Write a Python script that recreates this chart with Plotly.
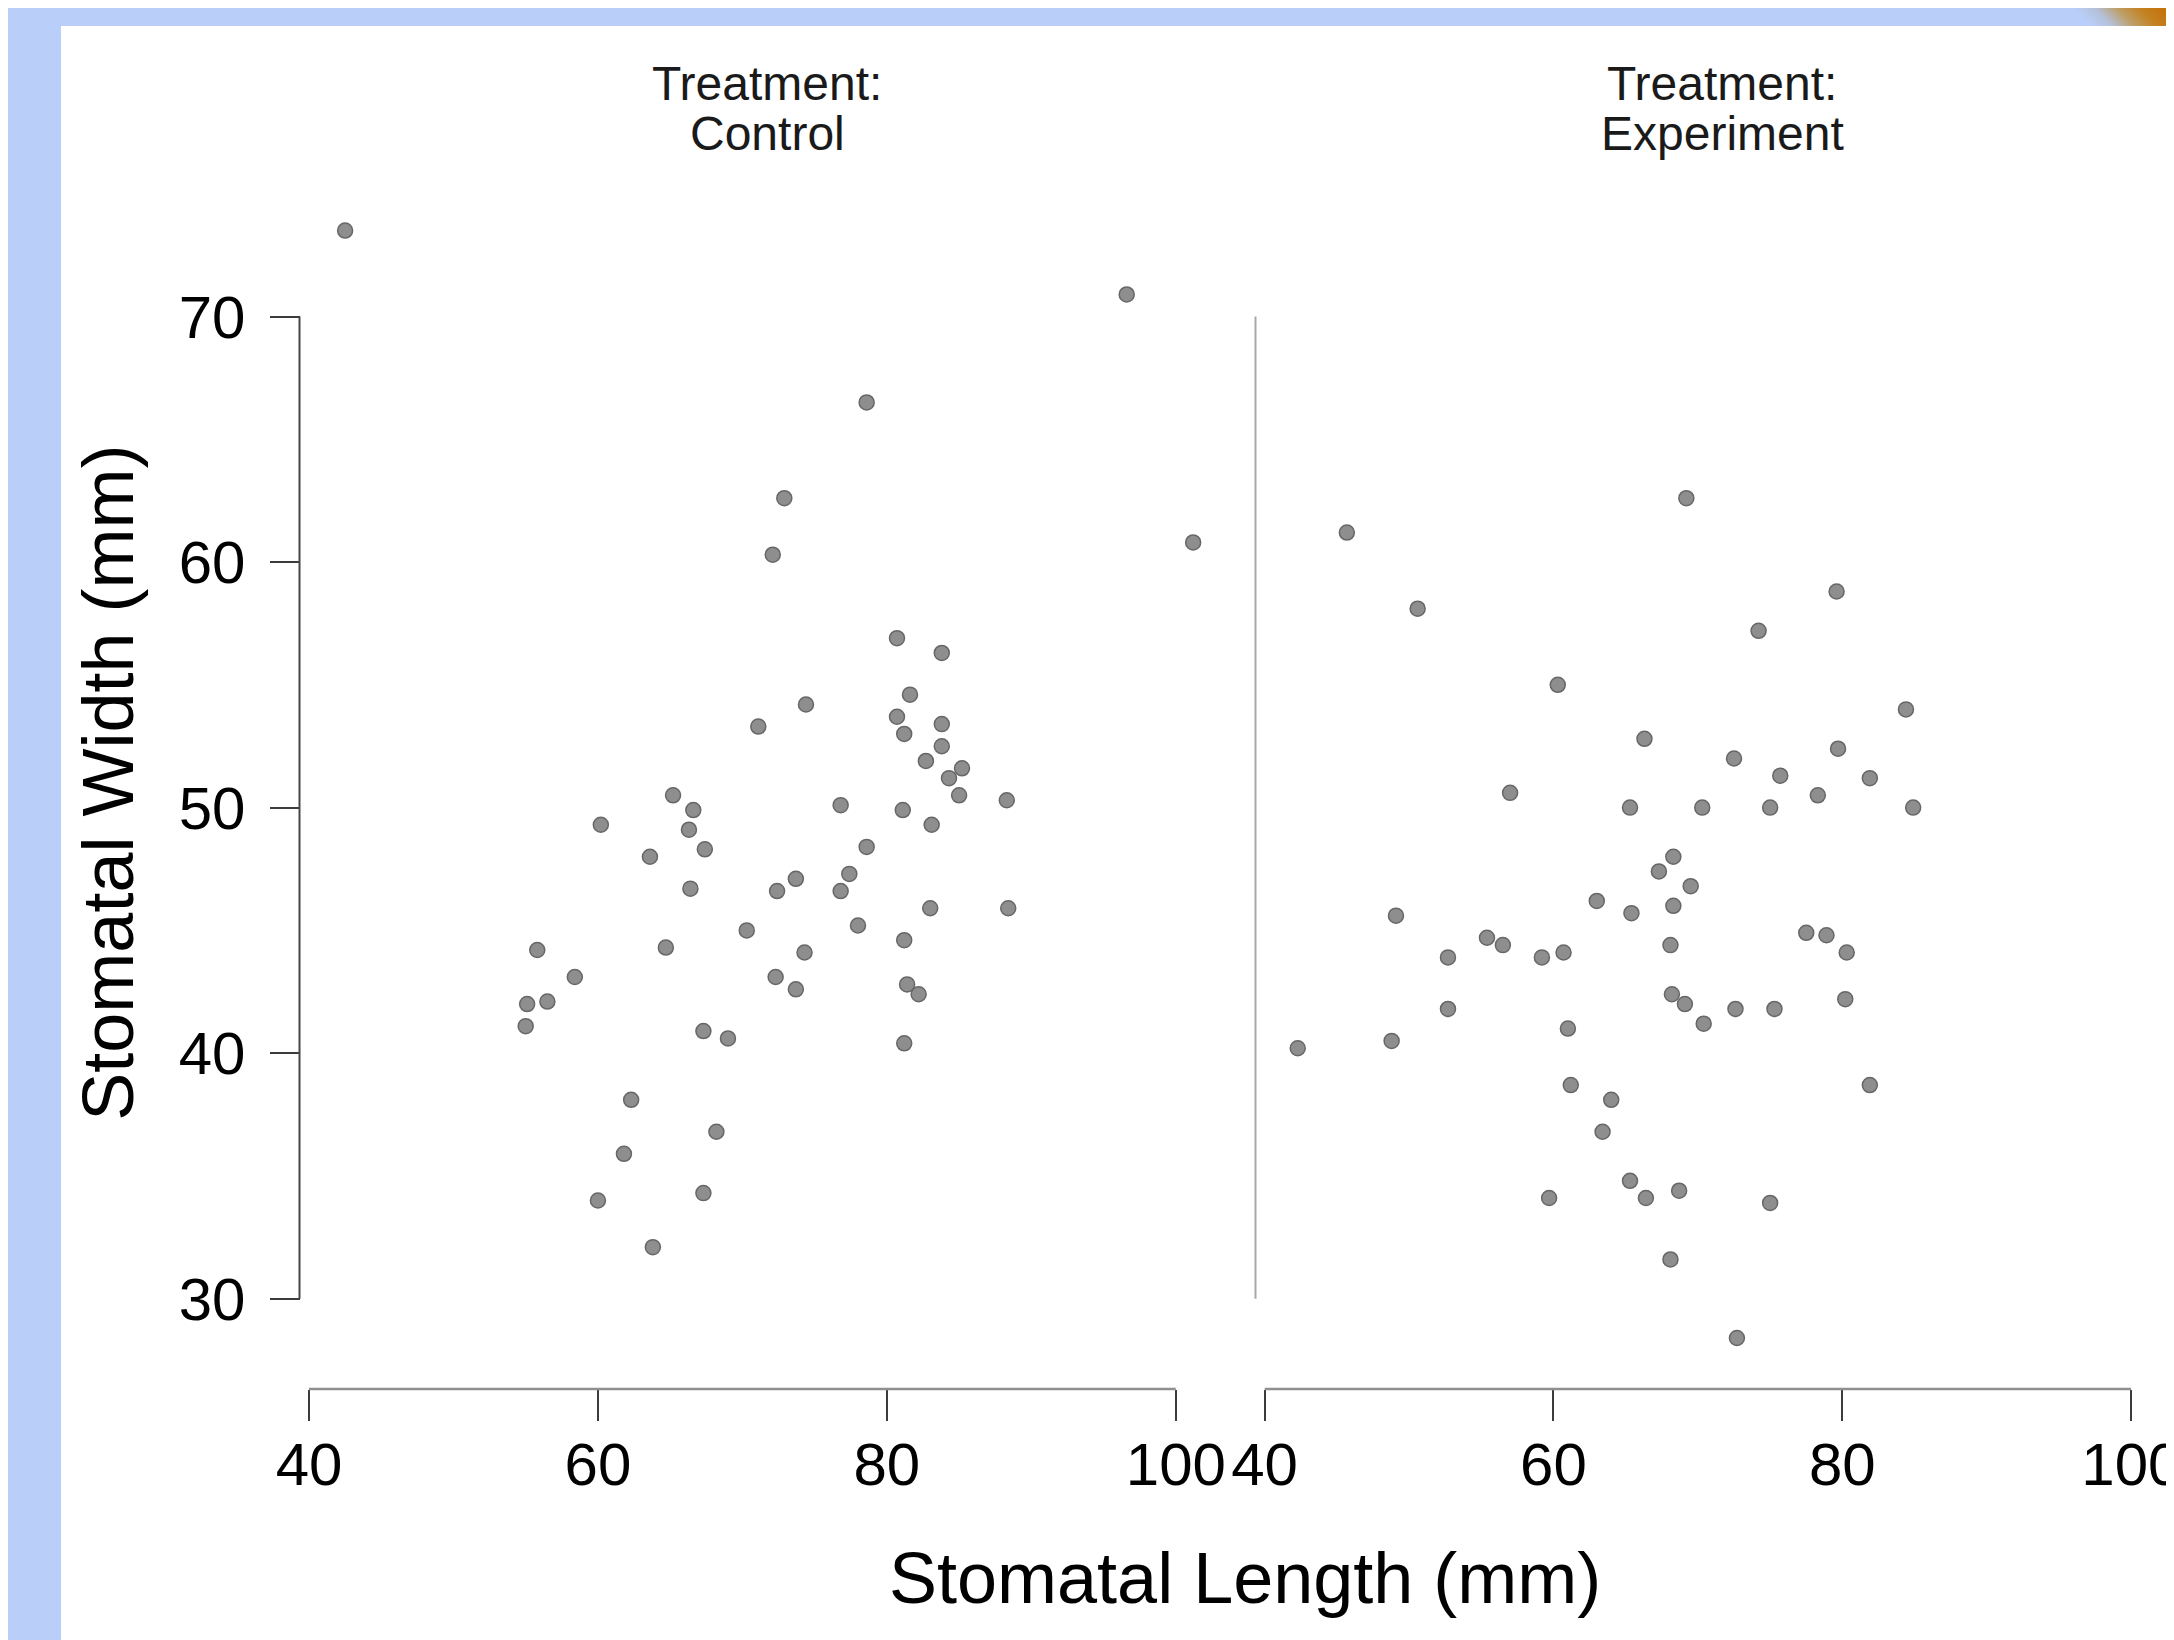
import base64
import plotly.graph_objects as go

control_length = [42.5, 96.6, 78.6, 72.9, 72.1, 101.2, 80.7, 83.8, 74.4, 81.6,
                  71.1, 80.7, 81.2, 83.8, 83.8, 82.7, 85.2, 84.3, 85.0, 88.3,
                  65.2, 66.6, 76.8, 81.1, 60.2, 66.3, 83.1, 67.4, 78.6, 63.6,
                  77.4, 73.7, 76.8, 72.4, 66.4, 83.0, 88.4, 78.0, 70.3, 55.8,
                  64.7, 81.2, 74.3, 58.4, 72.3, 73.7, 81.4, 82.2, 55.1, 56.5,
                  55.0, 67.3, 69.0, 81.2, 62.3, 68.2, 61.8, 60.0, 67.3, 63.8]
control_width = [73.5, 70.9, 66.5, 62.6, 60.3, 60.8, 56.9, 56.3, 54.2, 54.6,
                 53.3, 53.7, 53.0, 53.4, 52.5, 51.9, 51.6, 51.2, 50.5, 50.3,
                 50.5, 49.9, 50.1, 49.9, 49.3, 49.1, 49.3, 48.3, 48.4, 48.0,
                 47.3, 47.1, 46.6, 46.6, 46.7, 45.9, 45.9, 45.2, 45.0, 44.2,
                 44.3, 44.6, 44.1, 43.1, 43.1, 42.6, 42.8, 42.4, 42.0, 42.1,
                 41.1, 40.9, 40.6, 40.4, 38.1, 36.8, 35.9, 34.0, 34.3, 32.1]

experiment_length = [69.2, 45.7, 50.6, 79.6, 74.2, 60.3, 84.4, 66.3, 79.7, 72.5,
                     75.7, 81.9, 57.0, 78.3, 65.3, 70.3, 75.0, 84.9, 68.3, 67.3,
                     69.5, 63.0, 65.4, 68.3, 49.1, 55.4, 56.5, 52.7, 59.2, 60.7,
                     68.1, 77.5, 78.9, 80.3, 68.2, 69.1, 52.7, 72.6, 75.3, 80.2,
                     70.4, 61.0, 48.8, 42.3, 61.2, 64.0, 81.9, 63.4, 65.3, 66.4,
                     68.7, 59.7, 75.0, 68.1, 72.7]
experiment_width = [62.6, 61.2, 58.1, 58.8, 57.2, 55.0, 54.0, 52.8, 52.4, 52.0,
                    51.3, 51.2, 50.6, 50.5, 50.0, 50.0, 50.0, 50.0, 48.0, 47.4,
                    46.8, 46.2, 45.7, 46.0, 45.6, 44.7, 44.4, 43.9, 43.9, 44.1,
                    44.4, 44.9, 44.8, 44.1, 42.4, 42.0, 41.8, 41.8, 41.8, 42.2,
                    41.2, 41.0, 40.5, 40.2, 38.7, 38.1, 38.7, 36.8, 34.8, 34.1,
                    34.4, 34.1, 33.9, 31.6, 28.4]

x_ticks = [40, 60, 80, 100]
y_ticks = [30, 40, 50, 60, 70]
panel_titles = [("Treatment:", "Control"), ("Treatment:", "Experiment")]

# page body has an 8px margin, so the figure is drawn 8px in from the window edge
OFF = 8
W, H = 2174 - OFF, 1640 - OFF
FONT = "Liberation Sans, Arial, Helvetica, sans-serif"

# scale of the plot in screen pixels
X40_L, X40_R, XS = 309.0, 1264.5, 14.447   # x=40 on each panel, px per unit
Y70, YS = 316.5, 24.555                    # y=70, px per unit


def px(x):
    return (x - OFF) / W


def py(y):
    return 1 - (y - OFF) / H


def xdom(x40, lo, hi):
    return [px(x40 + (lo - 40) * XS), px(x40 + (hi - 40) * XS)]


Y_RANGE = [27, 75]
Y_DOMAIN = [py(Y70 + (70 - Y_RANGE[0]) * YS), py(Y70 - (Y_RANGE[1] - 70) * YS)]

marker = dict(size=15, color="#8e8e8e", line=dict(color="#676767", width=1.5))

fig = go.Figure()
fig.add_trace(go.Scatter(x=control_length, y=control_width, mode="markers",
                         marker=marker, cliponaxis=False, xaxis="x", yaxis="y",
                         showlegend=False))
fig.add_trace(go.Scatter(x=experiment_length, y=experiment_width, mode="markers",
                         marker=marker, cliponaxis=False, xaxis="x2", yaxis="y2",
                         showlegend=False))

xaxis_common = dict(anchor="free", position=py(1389), showline=False,
                    ticks="outside", ticklen=31, tickwidth=1.6, tickcolor="#3c3c3c",
                    tickvals=x_ticks, ticklabelstandoff=-8, ticklabeloverflow="allow",
                    tickfont=dict(size=60, color="black", family=FONT),
                    showgrid=False, zeroline=False, automargin=False, fixedrange=True)
yaxis_common = dict(range=Y_RANGE, domain=Y_DOMAIN, anchor="free", showline=False,
                    showgrid=False, zeroline=False, automargin=False, fixedrange=True)

fig.update_layout(
    width=W, height=H,
    margin=dict(l=0, r=0, t=0, b=0, pad=0),
    paper_bgcolor="#b9cffa",
    plot_bgcolor="rgba(0,0,0,0)",
    font=dict(family=FONT, color="black"),
    xaxis=dict(range=[40, 104], domain=xdom(X40_L, 40, 104), **xaxis_common),
    xaxis2=dict(range=[40, 100], domain=xdom(X40_R, 40, 100), **xaxis_common),
    yaxis=dict(position=px(299.5), ticks="outside", ticklen=30, tickwidth=1.8,
               tickcolor="#3c3c3c", tickvals=y_ticks, ticklabelstandoff=12,
               tickfont=dict(size=60, color="black", family=FONT), **yaxis_common),
    yaxis2=dict(position=px(1255.5), ticks="", showticklabels=False, **yaxis_common),
)

# white page over the blue frame
fig.add_shape(type="rect", xref="paper", yref="paper", x0=px(61), x1=px(2190),
              y0=py(1660), y1=py(26), fillcolor="white", line_width=0, layer="below")

# orange corner at top right of the frame
svg = ('<svg xmlns="http://www.w3.org/2000/svg" width="180" height="18" viewBox="0 8 180 18" '
       'preserveAspectRatio="none"><defs><linearGradient id="g" gradientUnits="userSpaceOnUse" '
       'x1="45" y1="40" x2="155" y2="-70">'
       '<stop offset="0" stop-color="#b9cffa"/><stop offset="0.3" stop-color="#b9cffa"/>'
       '<stop offset="0.4" stop-color="#b5c0d8"/><stop offset="0.5" stop-color="#bd9e66"/>'
       '<stop offset="0.6" stop-color="#c38222"/><stop offset="0.75" stop-color="#c66c00"/>'
       '<stop offset="1" stop-color="#c66c00"/></linearGradient></defs>'
       '<rect x="0" y="0" width="180" height="30" fill="url(#g)"/></svg>')
fig.add_layout_image(source="data:image/svg+xml;base64," + base64.b64encode(svg.encode()).decode(),
                     xref="paper", yref="paper", x=px(1994), y=1, sizex=180 / W,
                     sizey=18 / H, xanchor="left", yanchor="top", sizing="stretch",
                     layer="below")

# axis lines run only from the first to the last tick, as in the original
for xr in ["x", "x2"]:
    fig.add_shape(type="line", xref=xr, yref="paper", x0=x_ticks[0], x1=x_ticks[-1],
                  y0=py(1389), y1=py(1389), line=dict(color="#8f8f8f", width=2.5))
fig.add_shape(type="line", xref="paper", yref="y", x0=px(299.5), x1=px(299.5),
              y0=y_ticks[0], y1=y_ticks[-1], line=dict(color="#474747", width=2))
fig.add_shape(type="line", xref="paper", yref="y2", x0=px(1255.5), x1=px(1255.5),
              y0=y_ticks[0], y1=y_ticks[-1], line=dict(color="#a8a8a8", width=2))

# panel titles
for cx, (line1, line2) in zip([767, 1722], panel_titles):
    fig.add_annotation(text=line1, x=px(cx), y=py(83.7), xref="paper", yref="paper",
                       showarrow=False, xanchor="center", yanchor="middle",
                       font=dict(size=48, family=FONT, color="#1a1a1a"))
    fig.add_annotation(text=line2, x=px(cx), y=py(134), xref="paper", yref="paper",
                       showarrow=False, xanchor="center", yanchor="middle",
                       font=dict(size=48, family=FONT, color="#1a1a1a"))

# axis titles
fig.add_annotation(text="Stomatal Length (mm)", x=px(1245), y=py(1578), xref="paper",
                   yref="paper", showarrow=False, xanchor="center", yanchor="middle",
                   font=dict(size=72, family=FONT, color="black"))
fig.add_annotation(text="Stomatal Width (mm)", x=px(108), y=py(782.7), xref="paper",
                   yref="paper", showarrow=False, xanchor="center", yanchor="middle",
                   textangle=-90, font=dict(size=72, family=FONT, color="black"))

fig.write_html("out.html")
